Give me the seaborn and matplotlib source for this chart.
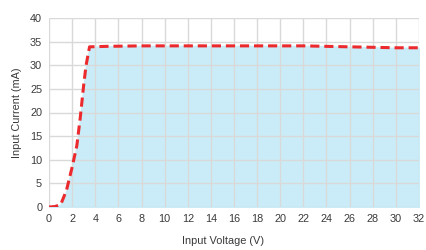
import matplotlib
matplotlib.use('Agg')
from matplotlib import pyplot as plt
import matplotlib.ticker as ticker
import seaborn as sns
import pandas as pd

# input voltage (V) vs input current (mA)
voltage = [0, 0.5, 1.0, 1.5, 2.0, 2.4, 2.7, 3.0, 3.2, 3.5, 5, 8, 12, 16, 20, 22, 24, 26, 28, 30, 32]
current = [0, 0.1, 0.5, 3.5, 8.5, 13.0, 19.0, 26.0, 30.0, 33.9, 34.0, 34.1, 34.1, 34.1, 34.1, 34.1, 34.0, 33.9, 33.8, 33.7, 33.7]

df = pd.DataFrame({'voltage': voltage, 'current': current})

sns.set_style('white')
plt.rcParams['font.family'] = ['Liberation Sans', 'DejaVu Sans']

fig = plt.figure(figsize=(4.27, 2.5), dpi=100)
ax = fig.add_axes([0.115, 0.172, 0.866, 0.756])

ax.fill_between(df['voltage'], df['current'], color='#c9ecf8', zorder=1)
sns.lineplot(data=df, x='voltage', y='current', ax=ax, color='#ec2a2e',
             linewidth=2.2, linestyle=(0, (3, 1.6)), zorder=3)

ax.set_xlim(0, 32)
ax.set_ylim(0, 40)
ax.xaxis.set_major_locator(ticker.MultipleLocator(2))
ax.yaxis.set_major_locator(ticker.MultipleLocator(5))
ax.grid(True, color='#d9d9d9', linewidth=1.0, zorder=2)
ax.set_axisbelow(False)
for s in ax.spines.values():
    s.set_visible(False)
ax.tick_params(axis='both', length=0, labelsize=7.8, colors='#3a3a3a', pad=5)
ax.set_xlabel('Input Voltage (V)', fontsize=7.9, color='#3a3a3a')
ax.set_ylabel('Input Current (mA)', fontsize=7.8, color='#3a3a3a', labelpad=6)
ax.xaxis.set_label_coords(0.47, -0.155)

fig.savefig('out.png', dpi=100)
